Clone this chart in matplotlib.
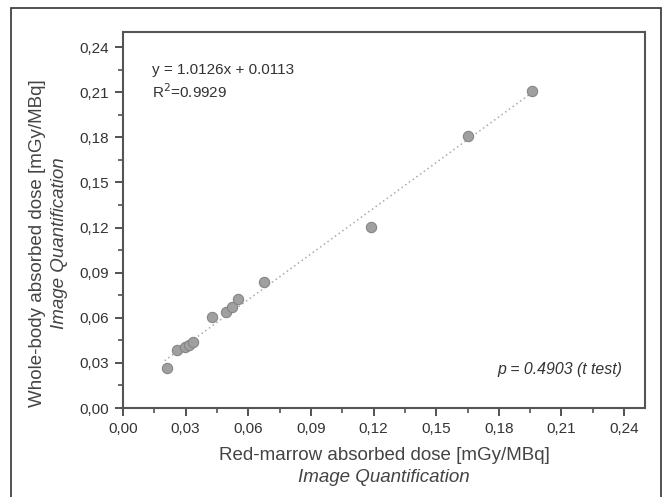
import numpy as np
import matplotlib
matplotlib.use("Agg")
from matplotlib import pyplot as plt
from matplotlib.patches import Rectangle
from matplotlib.ticker import MultipleLocator, FuncFormatter

# data
red_marrow = [0.0209, 0.0260, 0.0297, 0.0317, 0.0336, 0.0424, 0.0495, 0.0522,
              0.0552, 0.0674, 0.1190, 0.1650, 0.1958]
whole_body = [0.0264, 0.0387, 0.0405, 0.0422, 0.0437, 0.0605, 0.0637, 0.0672,
              0.0724, 0.0839, 0.1202, 0.1810, 0.2110]
slope = 1.0126
intercept = 0.0113
ticks = [0.00, 0.03, 0.06, 0.09, 0.12, 0.15, 0.18, 0.21, 0.24]

plt.rcParams['font.family'] = ['Liberation Sans', 'DejaVu Sans']

W, H = 667, 497
fig = plt.figure(figsize=(W / 100, H / 100), dpi=100)
ax = fig.add_axes([123 / W, 1 - 408 / H, (645 - 123) / W, (408 - 32) / H])

# trend line across the data range
xl = np.array([min(red_marrow) - 0.001, max(red_marrow)])
ax.plot(xl, slope * xl + intercept, ls=(0, (1, 2)), color='#aaaaaa', lw=1.1, zorder=1)

ax.scatter(red_marrow, whole_body, s=55, color='#a0a0a0', edgecolor='#858585',
           linewidth=0.8, zorder=3)

ax.set_xlim(0, 0.25)
ax.set_ylim(0, 0.25)
ax.set_xticks(ticks)
ax.set_yticks(ticks)
ax.xaxis.set_minor_locator(MultipleLocator(0.015))
ax.yaxis.set_minor_locator(MultipleLocator(0.015))
fmt = FuncFormatter(lambda v, p: f"{v:.2f}".replace('.', ','))
ax.xaxis.set_major_formatter(fmt)
ax.yaxis.set_major_formatter(fmt)
ax.tick_params(which='major', direction='out', length=6, width=1.3, color='#444444',
               labelsize=11, labelcolor='#333333', pad=4)
ax.tick_params(which='minor', direction='out', length=3.5, width=1.1, color='#444444')
for s in ax.spines.values():
    s.set_color('#555555')
    s.set_linewidth(1.5)

ax.text(0.055, 0.9, 'y = 1.0126x + 0.0113', transform=ax.transAxes,
        fontsize=11, color='#333333', va='center')
ax.text(0.055, 0.841, 'R$^2$=0.9929', transform=ax.transAxes,
        fontsize=11, color='#333333', va='center')
ax.text(0.957, 0.102, 'p = 0.4903 (t test)', transform=ax.transAxes, style='italic',
        fontsize=11.4, color='#333333', va='center', ha='right')

# axis titles
fig.text(384 / W, 1 - 456 / H, 'Red-marrow absorbed dose [mGy/MBq]', ha='center', va='center',
         fontsize=13.5, color='#444444')
fig.text(384 / W, 1 - 478 / H, 'Image Quantification', ha='center', va='center',
         fontsize=13.5, color='#444444', style='italic')
fig.text(38 / W, 1 - 243 / H, 'Whole-body absorbed dose [mGy/MBq]', ha='center', va='center',
         fontsize=13.5, color='#444444', rotation=90)
fig.text(60 / W, 1 - 243 / H, 'Image Quantification', ha='center', va='center',
         fontsize=13.5, color='#444444', style='italic', rotation=90)

# outer frame
fig.patches.append(Rectangle((11 / W, -0.05), (661 - 11) / W, 1.05 - 8 / H,
                             transform=fig.transFigure, fill=False,
                             edgecolor='#333333', lw=1.2))

fig.savefig('out.png', dpi=100)
